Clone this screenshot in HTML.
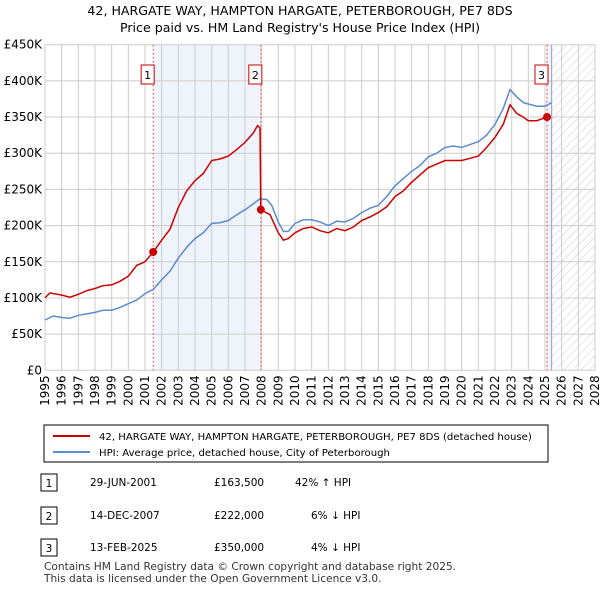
<!DOCTYPE html>
<html><head><meta charset="utf-8"><style>
body{margin:0;background:#fff;font-family:"Liberation Sans",sans-serif;}
svg text{font-family:"DejaVu Sans","Liberation Sans",sans-serif;}
</style></head><body>
<svg id="c" width="600" height="590" xmlns="http://www.w3.org/2000/svg">
<defs><pattern id="hatch" width="6" height="6" patternUnits="userSpaceOnUse" patternTransform="rotate(45)"><line x1="0" y1="0" x2="0" y2="6" stroke="#ccc" stroke-width="1"/></pattern></defs>
<text x="300" y="15" text-anchor="middle" font-size="12.6">42, HARGATE WAY, HAMPTON HARGATE, PETERBOROUGH, PE7 8DS</text>
<text x="300" y="32" text-anchor="middle" font-size="12.6">Price paid vs. HM Land Registry's House Price Index (HPI)</text>
<g id="plot"></g>
<rect x="44" y="425" width="504" height="37" fill="#fff" stroke="#000"/>
<line x1="53" y1="436" x2="90" y2="436" stroke="#cc0000" stroke-width="2"/>
<text x="99" y="440" font-size="10.1">42, HARGATE WAY, HAMPTON HARGATE, PETERBOROUGH, PE7 8DS (detached house)</text>
<line x1="53" y1="452" x2="90" y2="452" stroke="#5b8ccf" stroke-width="2"/>
<text x="99" y="456" font-size="10.1">HPI: Average price, detached house, City of Peterborough</text>
<g font-size="10.5">
<rect x="41" y="474" width="16" height="17" fill="#fff" stroke="#000"/><text x="49" y="487" text-anchor="middle">1</text>
<text x="90" y="486">29-JUN-2001</text><text x="214" y="486">£163,500</text><text x="295" y="486">42% ↑ HPI</text>
<rect x="41" y="507" width="16" height="17" fill="#fff" stroke="#000"/><text x="49" y="520" text-anchor="middle">2</text>
<text x="90" y="519">14-DEC-2007</text><text x="214" y="519">£222,000</text><text x="311" y="519">6% ↓ HPI</text>
<rect x="41" y="539" width="16" height="17" fill="#fff" stroke="#000"/><text x="49" y="552" text-anchor="middle">3</text>
<text x="90" y="551">13-FEB-2025</text><text x="214" y="551">£350,000</text><text x="311" y="551">4% ↓ HPI</text>
</g>
<text x="44" y="570" font-size="10.6" fill="#333">Contains HM Land Registry data © Crown copyright and database right 2025.</text>
<text x="44" y="582" font-size="10.6" fill="#333">This data is licensed under the Open Government Licence v3.0.</text>
</svg>
<script>
const hpiYears=[1995,1995.5,1996,1996.5,1997,1997.5,1998,1998.5,1999,1999.5,2000,2000.5,2001,2001.5,2002,2002.5,2003,2003.5,2004,2004.5,2005,2005.5,2006,2006.5,2007,2007.5,2007.9,2008.3,2008.6,2009,2009.3,2009.6,2010,2010.5,2011,2011.5,2012,2012.5,2013,2013.5,2014,2014.5,2015,2015.5,2016,2016.5,2017,2017.5,2018,2018.5,2019,2019.5,2020,2020.5,2021,2021.5,2022,2022.5,2022.9,2023.3,2023.7,2024,2024.5,2025,2025.4];
const hpiValues=[69.5,75,73,72,76,78,80,83,83,87,92,97,106,112,125,137,155,170,182,190,203,204,207,215,222,230,237,236,228,205,192,192,203,208,208,205,200,206,205,210,218,224,228,240,255,265,275,283,295,300,308,310,308,312,316,325,340,362,388,378,370,368,365,365,370];
const priceYears=[1995,1995.3,1996,1996.5,1997,1997.5,1998,1998.5,1999,1999.5,2000,2000.5,2001,2001.49,2002,2002.5,2003,2003.5,2004,2004.5,2005,2005.5,2006,2006.5,2007,2007.5,2007.75,2007.9,2007.95,2008.5,2009,2009.3,2009.6,2010,2010.5,2011,2011.5,2012,2012.5,2013,2013.5,2014,2014.5,2015,2015.5,2016,2016.5,2017,2017.5,2018,2018.5,2019,2019.5,2020,2020.5,2021,2021.5,2022,2022.5,2022.9,2023.3,2023.7,2024,2024.5,2025.12];
const priceValues=[100,107,104,101,105,110,113,117,118,123,130,145,150,163.5,180,195,225,248,262,272,290,292,296,305,315,328,338,335,222,215,190,180,182,190,196,198,193,190,196,193,198,207,212,218,226,240,248,260,270,280,285,290,290,290,293,296,308,322,340,367,355,350,345,345,350];
const saleYears=[2001.49,2007.95,2025.12];
const saleValues=[163.5,222,350];
const saleLabels=["1","2","3"];
const yTicks=[0,50,100,150,200,250,300,350,400,450];
const yTickLabels=["£0","£50K","£100K","£150K","£200K","£250K","£300K","£350K","£400K","£450K"];
const xTicks=[1995,1996,1997,1998,1999,2000,2001,2002,2003,2004,2005,2006,2007,2008,2009,2010,2011,2012,2013,2014,2015,2016,2017,2018,2019,2020,2021,2022,2023,2024,2025,2026,2027,2028];

const X0=45,X1=595,Y0=370.3,Y1=44.7;
const xs=y=>X0+(y-1995)/(2028-1995)*(X1-X0);
const ys=v=>Y0-v/450*(Y0-Y1);
const NS="http://www.w3.org/2000/svg";
const g=document.getElementById('plot');
function mk(t,a){const e=document.createElementNS(NS,t);for(const k in a)e.setAttribute(k,a[k]);g.appendChild(e);return e;}
let band=mk('rect',{x:xs(saleYears[0]),y:Y1,width:xs(saleYears[1])-xs(saleYears[0]),height:Y0-Y1,fill:'#eef3fc'});


let hat=mk('rect',{x:xs(2025.4),y:Y1,width:X1-xs(2025.4),height:Y0-Y1,fill:'url(#hatch)'});


let hb=mk('rect',{x:xs(2025.12),y:Y1,width:xs(2025.4)-xs(2025.12),height:Y0-Y1,fill:'#eef3fc'});


xTicks.forEach(t=>{const l=mk('line',{x1:xs(t),x2:xs(t),y1:Y1,y2:Y0,stroke:'#ccc'});


const tx=mk('text',{x:0,y:0,'font-size':12,'text-anchor':'end',transform:`translate(${xs(t)+4},${Y0+5}) rotate(-90)`});tx.textContent=t;

});
yTicks.forEach((t,i)=>{const l=mk('line',{x1:X0,x2:X1,y1:ys(t),y2:ys(t),stroke:'#ccc'});


const tx=mk('text',{x:X0-3,y:ys(t)+4,'font-size':12,'text-anchor':'end'});tx.textContent=yTickLabels[i];

});
let hl=mk('line',{x1:xs(2025.4),x2:xs(2025.4),y1:Y1,y2:Y0,stroke:'#8aa0c0'});


saleYears.forEach((s,i)=>{const l=mk('line',{x1:xs(s),x2:xs(s),y1:Y1,y2:Y0,stroke:'#e55','stroke-dasharray':'2,2'});

});
function path(xa,va,col,name){const d=xa.map((x,i)=>(i?'L':'M')+xs(x).toFixed(1)+','+ys(va[i]).toFixed(1)).join('');
const p=mk('path',{d:d,fill:'none',stroke:col,'stroke-width':1.5});

}
path(hpiYears,hpiValues,'#5b8ccf','hpi-line');
path(priceYears,priceValues,'#cc0000','price-line');
saleYears.forEach((s,i)=>{const c=mk('circle',{cx:xs(s),cy:ys(saleValues[i]),r:4,fill:'#cc0000'});


const r=mk('rect',{x:xs(s)-12,y:65,width:13,height:19,fill:'#fff',stroke:'#cc0000'});


const t=mk('text',{x:xs(s)-5.5,y:79,'font-size':11,'text-anchor':'middle'});t.textContent=saleLabels[i];

});
</script>
</body></html>
